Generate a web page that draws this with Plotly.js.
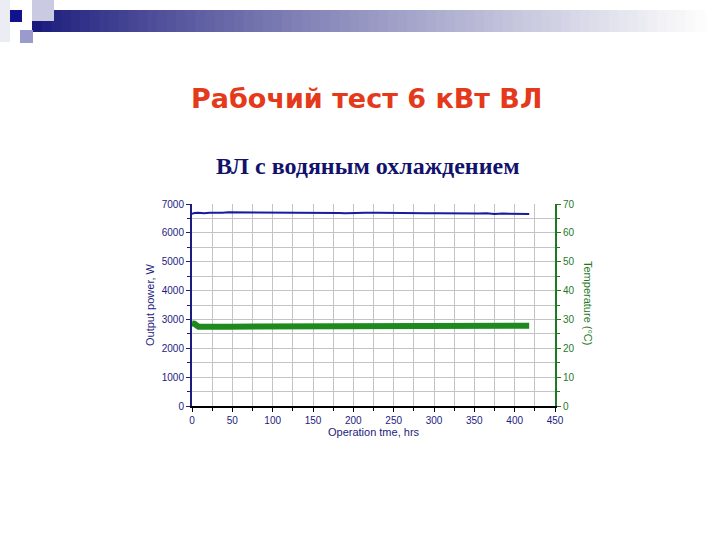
<!DOCTYPE html>
<html>
<head>
<meta charset="utf-8">
<script src="https://cdn.plot.ly/plotly-3.0.1.min.js"></script>
<style>
  html, body { margin: 0; padding: 0; background: #fff; }
  #chart { width: 720px; height: 540px; }
</style>
</head>
<body>
<div id="chart"></div>
<script>
// operating hours
var hours = [0, 3, 8, 15, 22, 30, 38, 45, 55, 65, 75, 90, 105, 120, 135, 150, 165, 175, 182, 190,
             198, 205, 215, 230, 245, 260, 275, 290, 305, 320, 335, 345, 355, 365, 375, 385, 395, 405, 412, 418];
// output power, W
var power = [6660, 6690, 6700, 6680, 6695, 6685, 6700, 6710, 6710, 6710, 6710, 6710, 6710, 6710, 6710, 6705, 6710, 6705, 6690, 6680,
             6690, 6680, 6700, 6700, 6690, 6685, 6690, 6680, 6680, 6670, 6680, 6675, 6670, 6680, 6650, 6670, 6665, 6655, 6650, 6650];
// temperature, C
var temp = [28.6, 28.5, 27.5, 27.4, 27.4, 27.4, 27.5, 27.5, 27.5, 27.6, 27.8, 27.8, 27.8, 27.6, 27.8, 27.8, 27.8, 27.8, 27.7, 27.8,
            27.8, 27.8, 27.8, 27.8, 27.9, 27.8, 27.8, 27.8, 27.8, 27.8, 27.8, 27.8, 27.8, 27.8, 27.8, 27.8, 27.8, 27.8, 27.8, 27.8];

var navy = '#1c1c80';
var green = '#1f7a1f';

// plot area in pixels: x 192..555, y 204..406
function px(x) { return (x - 192) / 363; }
function py(y) { return (406 - y) / 202; }

var shapes = [];
// header gradient bar
var steps = 70, x0 = 32, x1 = 705;
for (var i = 0; i < steps; i++) {
  var t = i / (steps - 1);
  var k = Math.pow(t, 0.85);
  var r = Math.round(26 + (252 - 26) * k);
  var g = Math.round(26 + (252 - 26) * k);
  var b = Math.round(124 + (252 - 124) * k);
  shapes.push({
    type: 'rect', xref: 'paper', yref: 'paper', layer: 'above',
    x0: px(x0 + (x1 - x0) * i / steps), x1: px(x0 + (x1 - x0) * (i + 1) / steps + 1),
    y0: py(32), y1: py(10),
    line: {width: 0}, fillcolor: 'rgb(' + r + ',' + g + ',' + b + ')'
  });
}
shapes.push({type: 'rect', xref: 'paper', yref: 'paper', layer: 'above', x0: px(0), x1: px(10), y0: py(42), y1: py(0), line: {width: 0}, fillcolor: '#ececf4'});
shapes.push({type: 'rect', xref: 'paper', yref: 'paper', layer: 'above', x0: px(32), x1: px(54), y0: py(21), y1: py(0), line: {width: 0}, fillcolor: '#cacae2'});
shapes.push({type: 'rect', xref: 'paper', yref: 'paper', layer: 'above', x0: px(10), x1: px(22), y0: py(22), y1: py(10), line: {width: 0}, fillcolor: '#12128c'});
shapes.push({type: 'rect', xref: 'paper', yref: 'paper', layer: 'above', x0: px(20), x1: px(33), y0: py(43), y1: py(30), line: {width: 0}, fillcolor: '#9a9acc'});

var traces = [
  {
    x: hours, y: power, type: 'scatter', mode: 'lines', name: 'Output power',
    line: {color: '#1a1aa0', width: 2}, yaxis: 'y'
  },
  {
    x: hours, y: temp, type: 'scatter', mode: 'lines', name: 'Temperature',
    line: {color: '#1e8a1e', width: 6}, yaxis: 'y2'
  }
];

var fam = 'Liberation Sans, Arial, sans-serif';

var layout = {
  width: 720, height: 540,
  margin: {l: 192, r: 165, t: 204, b: 134},
  paper_bgcolor: '#fff', plot_bgcolor: '#fff',
  showlegend: false,
  shapes: shapes,
  xaxis: {
    range: [0, 450], dtick: 50, tick0: 0,
    showgrid: true, gridcolor: '#c4c4c4', gridwidth: 1,
    minor: {dtick: 25, showgrid: true, gridcolor: '#c4c4c4', ticks: 'outside', ticklen: 3, tickcolor: '#000'},
    showline: true, linecolor: '#000', linewidth: 2,
    ticks: 'outside', ticklen: 4, tickcolor: '#000', tickwidth: 1,
    tickfont: {family: fam, size: 10, color: navy},
    zeroline: false,
    title: {text: 'Operation tme, hrs', font: {family: fam, size: 11, color: navy}, standoff: 2}
  },
  yaxis: {
    range: [0, 7000], dtick: 1000, tick0: 0,
    showgrid: true, gridcolor: '#c4c4c4', gridwidth: 1,
    minor: {dtick: 500, showgrid: true, gridcolor: '#c4c4c4', ticks: 'outside', ticklen: 3, tickcolor: navy},
    showline: true, linecolor: navy, linewidth: 2,
    ticks: 'outside', ticklen: 4, tickcolor: navy, tickwidth: 1,
    tickfont: {family: fam, size: 10, color: navy},
    zeroline: false,
    title: {text: 'Output power, W', font: {family: fam, size: 11, color: navy}, standoff: 5}
  },
  yaxis2: {
    overlaying: 'y', side: 'right',
    range: [0, 70], dtick: 10, tick0: 0,
    showgrid: false,
    minor: {dtick: 5, ticks: 'outside', ticklen: 3, tickcolor: green},
    showline: true, linecolor: green, linewidth: 2,
    ticks: 'outside', ticklen: 4, tickcolor: green, tickwidth: 1,
    tickfont: {family: fam, size: 10, color: green},
    zeroline: false
  },
  annotations: [
    {
      xref: 'paper', yref: 'paper', x: px(366), y: py(98), xanchor: 'center', yanchor: 'middle', showarrow: false,
      text: '<b>Рабочий тест 6 кВт ВЛ</b>',
      font: {family: 'DejaVu Sans, Verdana, sans-serif', size: 27, color: '#e5391b'}
    },
    {
      xref: 'paper', yref: 'paper', x: px(368), y: py(166), xanchor: 'center', yanchor: 'middle', showarrow: false,
      text: '<b>ВЛ с водяным охлаждением</b>',
      font: {family: 'Liberation Serif, Times New Roman, serif', size: 24, color: '#12126c'}
    },
    {
      xref: 'paper', yref: 'paper', x: px(588), y: py(303), xanchor: 'center', yanchor: 'middle', showarrow: false,
      text: 'Temperature (°C)', textangle: 90,
      font: {family: fam, size: 11, color: green}
    }
  ]
};

Plotly.newPlot('chart', traces, layout, {displayModeBar: false, staticPlot: true});
</script>
</body>
</html>
